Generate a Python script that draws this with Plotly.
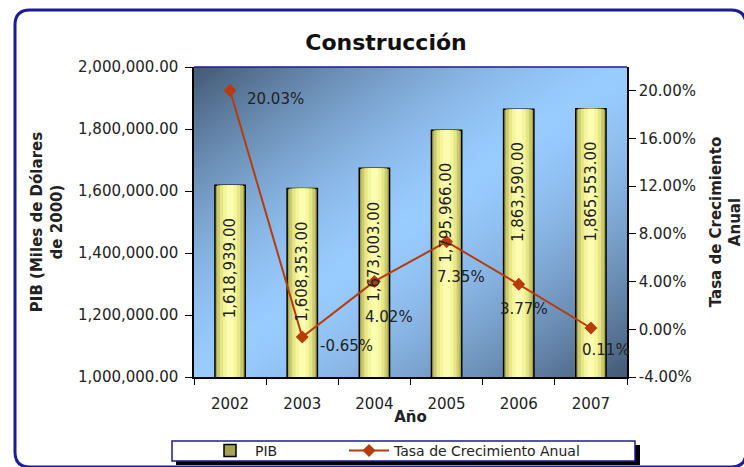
import base64, struct, zlib
import plotly.graph_objects as go

# ---- data ----
years = ["2002", "2003", "2004", "2005", "2006", "2007"]
pib = [1618939.00, 1608353.00, 1673003.00, 1795966.00, 1863590.00, 1865553.00]
growth = [20.03, -0.65, 4.02, 7.35, 3.77, 0.11]
rate_ticks = [-4, 0, 4, 8, 12, 16, 20]

# ---- layout geometry (pixels) ----
W_FIG, H_FIG = 744, 467
L, R, T, B = 194, 627, 67, 377
PW, PH = R - L, B - T


def px_x(p):
    return (p - L) / PW


def px_y(p):
    return (B - p) / PH


# ---- gradient background image (pure python png) ----
def make_png(w, h, fn):
    raw = b""
    for j in range(h):
        row = b"\x00"
        for i in range(w):
            row += bytes(fn(i / (w - 1), j / (h - 1)))
        raw += row

    def chunk(t, d):
        c = struct.pack(">I", len(d)) + t + d
        return c + struct.pack(">I", zlib.crc32(t + d) & 0xFFFFFFFF)

    png = b"\x89PNG\r\n\x1a\n"
    png += chunk(b"IHDR", struct.pack(">IIBBBBB", w, h, 8, 2, 0, 0, 0))
    png += chunk(b"IDAT", zlib.compress(raw, 9))
    png += chunk(b"IEND", b"")
    return "data:image/png;base64," + base64.b64encode(png).decode()


dark = (70, 92, 120)
light = (153, 204, 255)


def grad(u, v):
    t = (u + v) / 2
    d = abs(2 * t - 1)
    f = 1 - d ** 1.5
    return tuple(int(dark[k] + (light[k] - dark[k]) * f) for k in range(3))


bg_src = make_png(64, 64, grad)

FONT = "DejaVu Sans"
TXT = "#222222"

fig = go.Figure()

# bars: layered overlay to mimic cylinder shading
fig.add_trace(go.Bar(x=years, y=pib, name="PIB", width=0.42,
                     marker=dict(color="#a4a44e", line=dict(color="#000000", width=1.5)),
                     yaxis="y", hoverinfo="skip", legendwidth=84))
for w, c in [(0.36, "#cbcb6e"), (0.28, "#e6e688"), (0.19, "#f5f59c"), (0.09, "#fdfdb2")]:
    fig.add_trace(go.Bar(x=years, y=pib, width=w, marker=dict(color=c, line=dict(width=0)),
                         showlegend=False, yaxis="y", hoverinfo="skip"))

fig.add_trace(go.Scatter(x=years, y=growth, name="Tasa de Crecimiento Anual", yaxis="y2",
                         mode="lines+markers",
                         line=dict(color="#b83c0a", width=2),
                         marker=dict(symbol="diamond", size=10, color="#b83c0a"),
                         legendwidth=215))

annotations = []
for i, v in enumerate(pib):
    annotations.append(dict(x=i, y=v, xref="x", yref="y", text=f"{v:,.2f}", textangle=-90,
                            showarrow=False, xanchor="center", yanchor="top", yshift=-31,
                            font=dict(family=FONT, size=15, color=TXT)))

label_offsets = [(45, 9), (44, 9), (15, 36), (14, 35), (5, 25), (15, 22)]
for i, (g, (dx, dy)) in enumerate(zip(growth, label_offsets)):
    annotations.append(dict(x=i, y=g, xref="x", yref="y2", text=f"{g:.2f}%",
                            showarrow=False, xanchor="center", yanchor="middle",
                            xshift=dx, yshift=-dy,
                            font=dict(family=FONT, size=15, color=TXT)))

shapes = [
    # outer rounded frame
    dict(type="path", xref="paper", yref="paper", layer="above",
         path=(f"M {px_x(15)},{px_y(25)} L {px_x(15)},{px_y(452)} "
               f"Q {px_x(15)},{px_y(467)} {px_x(30)},{px_y(467)} "
               f"L {px_x(731)},{px_y(467)} Q {px_x(746)},{px_y(467)} {px_x(746)},{px_y(452)} "
               f"L {px_x(746)},{px_y(25)} Q {px_x(746)},{px_y(10)} {px_x(731)},{px_y(10)} "
               f"L {px_x(30)},{px_y(10)} Q {px_x(15)},{px_y(10)} {px_x(15)},{px_y(25)} Z"),
         line=dict(color="#1c1c96", width=3)),
    # top border of plot area
    dict(type="line", xref="paper", yref="paper", x0=0, x1=1, y0=1, y1=1,
         line=dict(color="#1c1c96", width=1.5)),
    # legend shadow and box
    dict(type="rect", xref="paper", yref="paper", x0=px_x(176), x1=px_x(640),
         y0=px_y(445), y1=px_y(465), fillcolor="#000000", line=dict(width=0)),
    dict(type="rect", xref="paper", yref="paper", x0=px_x(172), x1=px_x(635),
         y0=px_y(441), y1=px_y(461), fillcolor="#ffffff", line=dict(color="#1c1c96", width=1.5)),
]

fig.update_layout(
    width=W_FIG, height=H_FIG,
    margin=dict(l=L, r=W_FIG - R, t=T, b=H_FIG - B, autoexpand=False),
    paper_bgcolor="#ffffff", plot_bgcolor="rgba(0,0,0,0)",
    barmode="overlay",
    font=dict(family=FONT, size=15, color=TXT),
    title=dict(text="Construcción", x=(386 - L) / PW, xref="paper", xanchor="center",
               y=1 - 42 / H_FIG, yref="container", yanchor="middle",
               font=dict(family=FONT, size=22, color="#111111", weight="bold")),
    images=[dict(source=bg_src, xref="paper", yref="paper", x=0, y=1, sizex=1, sizey=1,
                 sizing="stretch", layer="below")],
    xaxis=dict(type="category", range=[-0.5, 5.5], showgrid=False, showline=True,
               linecolor="#000000", linewidth=1.5, automargin=False,
               ticks="outside", ticklen=6, tickcolor="#000000", tickson="boundaries",
               ticklabelstandoff=12,
               tickfont=dict(size=15, color=TXT),
               title=dict(text="Año", standoff=0, font=dict(size=15, weight="bold", color=TXT))),
    yaxis=dict(range=[1000000, 2000000], dtick=200000, tickformat=",.2f", showgrid=False,
               showline=True, linecolor="#000000", linewidth=1.5, ticks="outside", ticklen=7,
               tickcolor="#000000", zeroline=False, ticklabelstandoff=4, automargin=False,
               tickfont=dict(size=15, color=TXT),
               title=dict(text="PIB (Miles de Dólares<br>de 2000)", standoff=12,
                          font=dict(size=15, weight="bold", color=TXT))),
    yaxis2=dict(overlaying="y", side="right", range=[-4, 22], tickvals=rate_ticks,
                ticktext=[f"{v:.2f}%" for v in rate_ticks], showgrid=False, zeroline=False,
                showline=True, linecolor="#000000", linewidth=1.5, ticks="outside", ticklen=7,
                tickcolor="#000000", tickfont=dict(size=15, color=TXT), automargin=False,
                title=dict(text="Tasa de Crecimiento<br>Anual", standoff=16,
                           font=dict(size=15, weight="bold", color=TXT))),
    legend=dict(orientation="h", x=px_x(205), xanchor="left", y=px_y(451), yanchor="middle",
                bgcolor="rgba(0,0,0,0)", borderwidth=0,
                font=dict(size=14, color=TXT), itemwidth=40),
    annotations=annotations,
    shapes=shapes,
)

fig.write_html("out.html")
